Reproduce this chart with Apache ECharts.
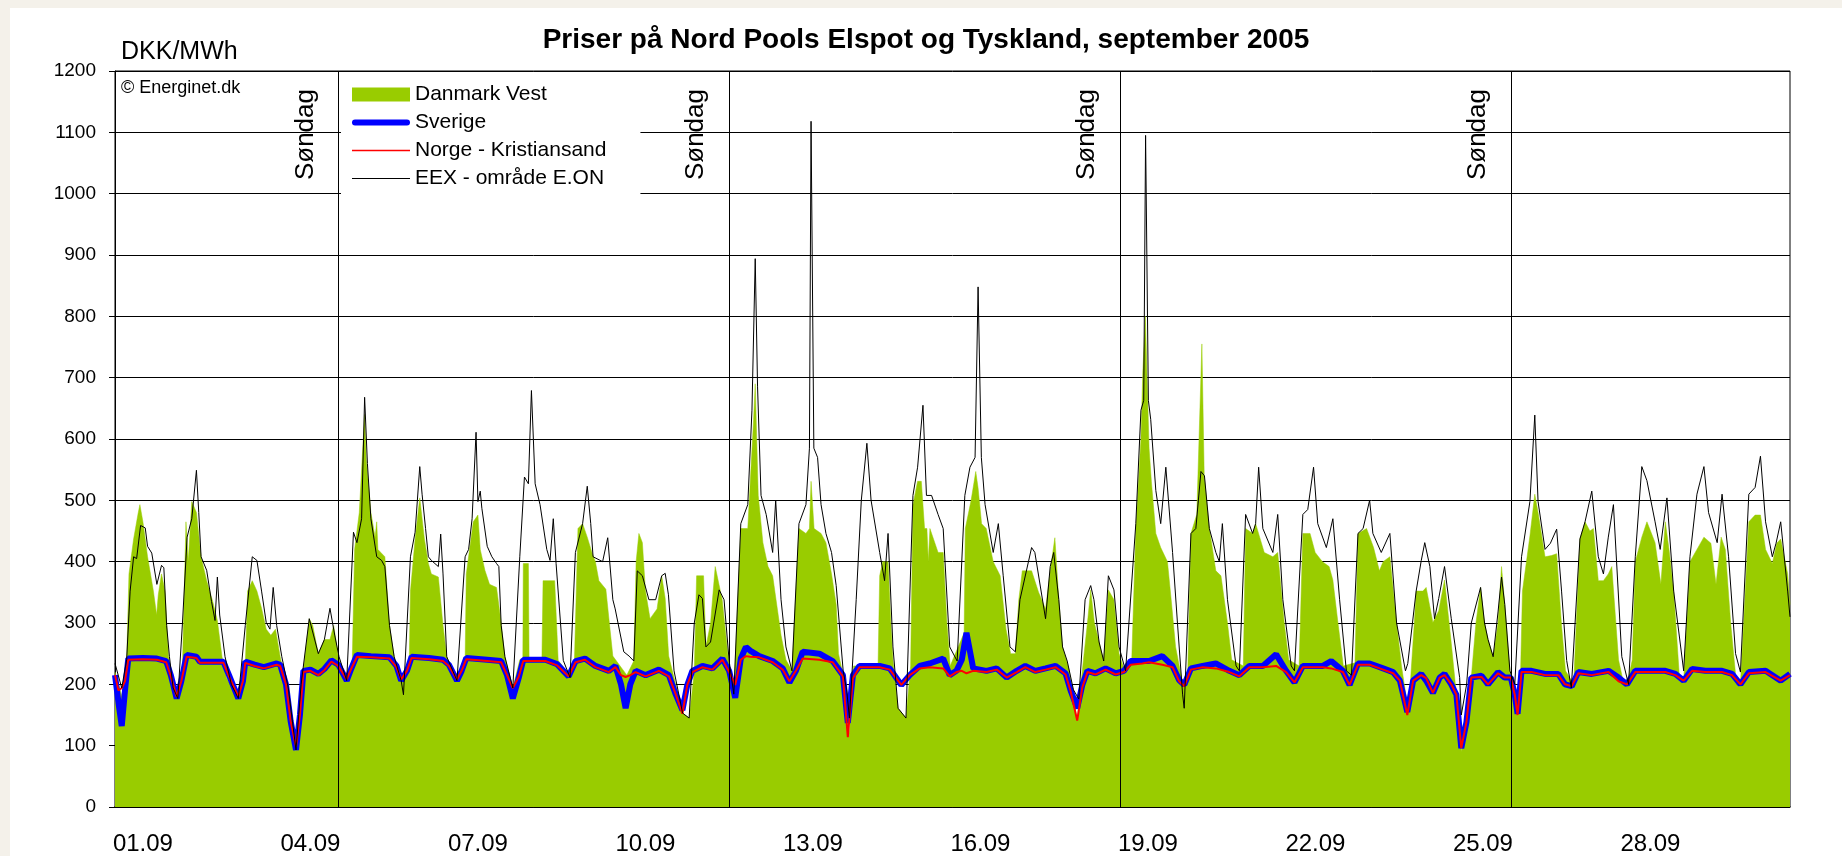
<!DOCTYPE html>
<html>
<head>
<meta charset="utf-8">
<script src="https://cdn.jsdelivr.net/npm/echarts/dist/echarts.min.js"></script>
<style>
  html, body { margin: 0; padding: 0; background: #f4f1ea; }
  #chart { position: absolute; left: 10px; top: 8px; width: 1832px; height: 848px; background: #fff; }
</style>
</head>
<body>
<div id="chart"></div>
<script>
// dagene i september, label hver 3. dag
const days = ['01.09','02.09','03.09','04.09','05.09','06.09','07.09','08.09','09.09','10.09',
  '11.09','12.09','13.09','14.09','15.09','16.09','17.09','18.09','19.09','20.09',
  '21.09','22.09','23.09','24.09','25.09','26.09','27.09','28.09','29.09','30.09'];

// mandag kl. 00 (slut på søndag), timer fra 1/9 kl. 00
const sundayEnds = [96, 264, 432, 600];

// [time, DKK/MWh]
const dkVest = [
  [0,220],[3,180],[5,235],[6,380],[8,437],[10,480],[10.7,493],[12,465],[14,408],[16.5,352],[17.9,313],[18.6,346],[20,380],[21.5,352],[23,245],
  [25,200],[27,177],[29,230],[30.5,465],[31.5,400],[33,498],[35,480],[37,408],[39.4,369],[42,335],[44,304],[46,245],[48,210],
  [53,177],[56,230],[57,352],[59,369],[61,352],[63,324],[65,290],[67,280],[69,290],[71,245],[74,194],[77.8,90],
  [80,190],[83.5,307],[85,296],[87.4,250],[90,273],[92.4,273],[94,296],[96,245],[99.6,206],
  [102,240],[103,420],[105,480],[107.3,640],[108,566],[110,480],[111.8,440],[112.5,465],[113,420],[116,408],[118,296],[120,245],[123,206],
  [126.5,240],[127,352],[129,437],[131,504],[133,437],[134.7,397],[136,380],[139,375],[141,296],[142.6,245],[147,206],
  [150.5,240],[151,380],[154,465],[156,476],[157,420],[159,386],[161,363],[164,358],[166,300],[167.6,245],[171,194],
  [174,240],[175.3,240],[175.5,397],[177.7,397],[178,240],[183.5,240],[184,369],[189,369],[190.5,239],[192,232],
  [195,215],[197.5,240],[199,454],[201,462],[203,440],[205,415],[206.5,400],[208,369],[211,355],[212.5,300],[214,246],
  [220,215],[223,238],[224,400],[225.2,446],[226.7,431],[228,353],[230,307],[233,323],[235,377],[236.5,340],[238,246],
  [241,200],[244,153],[246.8,145],[249,220],[250,377],[253,377],[254,261],[256,300],[258,392],[261,338],[263.5,246],
  [266,184],[269,454],[272,454],[274.5,632],[275.2,690],[276.5,508],[278.5,431],[280.7,392],[282.7,377],[286.3,280],[288.4,240],
  [291,222],[294,454],[297,446],[298.5,454],[299.2,531],[300.5,454],[303.5,446],[305.6,431],[308,380],[310,330],[311,250],
  [313,215],[315.7,120],[317.5,230],[328,230],[328.7,377],[330,400],[332.3,400],[333.5,300],[334.4,240],[336.6,161],[340,145],
  [342,230],[343,493],[345,531],[346.6,531],[348,454],[349,454],[349.6,400],[350.3,454],[353.8,415],[356,415],[357.6,300],[359,230],
  [365,284],[365.5,454],[368,500],[370,547],[371,520],[372.5,462],[374.5,454],[377.5,400],[380.5,377],[383,290],[385,250],
  [387,250],[388.5,338],[390,385],[394,385],[397,350],[400,323],[402,385],[404,439],[405.7,338],[407.3,261],[410,226],
  [413.6,141],[416,230],[418,300],[419.4,354],[421,300],[423,269],[425,238],[427,354],[429.4,338],[431.6,250],[434,222],
  [437,234],[438.8,454],[441,601],[441.8,709],[442.9,800],[444.5,585],[445.5,530],[447.4,446],[449.5,423],[452.4,400],[454,338],[455.9,261],[459,200],
  [461,200],[462.5,446],[465,477],[467.2,755],[468.2,540],[470.4,454],[473.2,385],[475.4,377],[478.2,300],[480,240],
  [485,230],[486,454],[489,446],[490.3,462],[494,415],[497.7,408],[499.8,415],[502.6,300],[504.5,240],
  [509,230],[510.6,446],[513.7,446],[515.9,415],[519,400],[521.9,392],[523.5,370],[525.7,300],[528,230],
  [533,235],[534.3,446],[538,454],[541,423],[543.5,385],[545.1,400],[548,408],[550.9,300],[553,230],
  [556,155],[558.5,300],[559.3,352],[562.2,352],[563.6,358],[566.5,301],[569,320],[571.5,370],[574.4,267],[576.6,183],
  [578.7,90],[581,150],[583,211],[585,300],[587,358],[588.7,300],[590.2,273],[592.4,245],[594.5,301],[596,392],[597.4,330],[599.6,222],
  [602.4,152],[604.2,222],[605,352],[608.2,442],[610.3,510],[611.7,480],[614.7,408],[617.5,410],[619.7,413],[621.8,296],[623.5,222],
  [627,200],[629.7,437],[631.9,465],[634,450],[635.5,454],[637.6,369],[639.8,369],[641.9,380],[643.4,392],[646.3,240],[648,210],
  [650,200],[652.2,240],[653.5,400],[656.3,440],[658.5,465],[662,431],[664.5,363],[666.4,465],[668,420],[670,352],[672.5,210],
  [674.3,206],[677,400],[680,420],[683,440],[686,430],[688.2,363],[690.4,440],[692.2,420],[694.5,300],[697,200],
  [698.7,200],[702.3,465],[705,476],[707.3,476],[709.5,420],[712.4,397],[714.3,430],[716,437],[719,380],[720,330]
];

const sverige = [
  [0,215],[1.5,170],[2.9,132],[4.3,190],[5.7,242],[12,243],[18,242],[22,238],[24,215],[26.5,177],[28.5,205],[30.8,248],[35,245],[36.5,237],[46.6,237],
  [49,215],[53,177],[55,205],[56,237],[60,232],[64,228],[69.5,234],[71,232],[73.5,200],[75.5,140],[77.8,93],[79.5,150],[81,222],[84,224],[87.4,217],
  [90,225],[93,239],[96,232],[99.6,206],[101.5,225],[104,248],[110,246],[118,244],[121,230],[123,206],[125.5,222],[127.5,245],[135,243],[141,240],
  [143.5,232],[147,206],[149,222],[151,243],[160,240],[166,238],[168.5,215],[171,177],[173.5,210],[175.5,240],[185,240],[190,233],[195,213],[198,238],
  [202,242],[206.5,230],[212.3,222],[215.1,230],[217.5,200],[219.5,161],[221.5,200],[223.8,222],[228.1,215],[233.8,224],[238.1,215],[241,184],
  [243.9,158],[246,199],[248.2,222],[252.5,230],[256.8,226],[261.1,242],[264,222],[266.6,178],[269,242],[271.2,261],[273,255],[276.9,246],
  [282.7,238],[287,226],[289.9,203],[292.7,222],[295.6,253],[302.8,250],[308.5,238],[312.9,215],[315,137],[317.2,215],[320,230],[328.7,230],
  [333,226],[338,199],[341.6,215],[345.9,230],[350.2,234],[356,242],[358.8,215],[361.7,222],[364,240],[366,284],[368.9,226],[374.6,222],
  [379,226],[383.3,211],[387.6,222],[391.3,230],[395.6,222],[400,226],[404.3,230],[408.6,218],[410.7,191],[413.6,161],[415.8,199],[418,222],
  [421.5,218],[425.8,226],[430.1,218],[433.7,222],[436.6,238],[441.6,238],[444.5,238],[450.2,246],[454.6,230],[457.4,207],[459.6,199],[462.5,226],
  [467.5,230],[473.2,234],[479,222],[483.3,215],[487.6,230],[493.4,230],[499.1,249],[503.4,222],[507,203],[510.6,230],[519.2,230],[522.8,238],
  [527.8,222],[530.7,199],[534.3,234],[539.3,234],[545.1,226],[549.4,220],[552.3,206],[555.5,155],[558,206],[561.5,217],[563.6,206],[566.5,186],
  [569.4,211],[571.5,217],[574.4,200],[576.6,183],[578.7,96],[580.9,138],[583,211],[587.4,214],[590.2,200],[594.5,220],[597.4,211],[600,211],
  [601.7,183],[602.9,152],[604.6,222],[608.9,222],[614.7,217],[620.4,217],[623.3,200],[626.2,197],[629,220],[634.8,217],[642,222],[646.3,211],
  [649.9,200],[653.5,222],[660.6,222],[666.4,222],[670.7,217],[674.3,206],[677.9,225],[683.6,222],[690.8,222],[695.1,217],[698.7,200],[702.3,220],
  [709.5,222],[716,206],[720,217]
];

const norge = [
  [0,215],[1.5,190],[2.9,194],[4.3,205],[5.7,240],[12,241],[18,240],[22,236],[24,213],[26.5,180],[28.5,205],[30.8,245],[35,243],[36.5,235],[46.6,235],
  [49,213],[53,180],[55,205],[56,235],[60,230],[64,226],[69.5,232],[71,230],[73.5,200],[75.5,140],[77.8,98],[79.5,150],[81,220],[84,222],[87.4,215],
  [90,223],[93,237],[96,230],[99.6,208],[101.5,225],[104,245],[110,244],[118,242],[121,228],[123,208],[125.5,222],[127.5,243],[135,241],[141,238],
  [143.5,230],[147,208],[149,222],[151,241],[160,238],[166,236],[168.5,215],[171,194],[173.5,212],[175.5,238],[185,238],[190,231],[195,213],[198,236],
  [202,240],[206.5,228],[212.3,220],[215.1,228],[217.5,215],[219.5,212],[221.5,215],[223.8,220],[228.1,213],[233.8,222],[238.1,213],[241,184],
  [243.9,152],[246,199],[248.2,220],[252.5,228],[256.8,224],[261.1,240],[264,220],[266.6,199],[269,240],[271.2,246],[273,245],[276.9,244],
  [282.7,236],[287,224],[289.9,205],[292.7,222],[295.6,242],[302.8,240],[308.5,236],[312.9,213],[315,114],[317.2,210],[320,228],[328.7,228],
  [333,224],[338,199],[341.6,215],[345.9,226],[350.2,228],[356,226],[358.8,213],[361.7,220],[364,222],[366,218],[368.9,222],[374.6,220],
  [379,224],[383.3,211],[387.6,220],[391.3,228],[395.6,220],[400,224],[404.3,228],[408.6,216],[410.7,190],[413.6,141],[415.8,195],[418,220],
  [421.5,216],[425.8,224],[430.1,216],[433.7,220],[436.6,232],[441.6,234],[444.5,236],[450.2,232],[454.6,228],[457.4,205],[459.6,197],[462.5,224],
  [467.5,228],[473.2,226],[479,220],[483.3,213],[487.6,228],[493.4,228],[499.1,230],[503.4,220],[507,203],[510.6,228],[519.2,228],[522.8,226],
  [527.8,220],[530.7,199],[534.3,232],[539.3,232],[545.1,224],[549.4,218],[552.3,206],[555.5,150],[558,206],[561.5,215],[563.6,210],[566.5,186],
  [569.4,211],[571.5,215],[574.4,200],[576.6,183],[578.7,96],[580.9,138],[583,211],[587.4,212],[590.2,200],[594.5,218],[597.4,211],[600,211],
  [601.7,183],[602.9,150],[604.6,220],[608.9,220],[614.7,215],[620.4,215],[623.3,200],[626.2,197],[629,218],[634.8,215],[642,220],[646.3,205],
  [649.9,200],[653.5,220],[660.6,220],[666.4,220],[670.7,215],[674.3,206],[677.9,222],[683.6,220],[690.8,220],[695.1,215],[698.7,200],[702.3,218],
  [709.5,220],[716,206],[720,215]
];

const eex = [
  [0,234],[2.9,194],[5,240],[6.5,352],[8,408],[9.3,405],[11,459],[13,455],[14,425],[15.8,414],[18,363],[20,394],[21,390],[22.2,296],[23.4,245],
  [25,194],[27,177],[29,300],[31,440],[33,470],[35,549],[36,480],[37,408],[39.4,386],[41.5,335],[43,304],[44,375],[45,313],[47.3,245],[50,200],[53,177],
  [56,296],[59,408],[61,402],[63,352],[65,301],[66.6,290],[68,358],[69.5,296],[71.7,245],[74.5,194],[77.8,93],
  [80,200],[83.5,307],[87.4,250],[90,273],[92.4,324],[94.5,279],[96.3,245],[99.6,206],
  [102.5,448],[104,431],[106,470],[107.3,668],[108.5,560],[110,470],[112.5,408],[114.6,402],[116,392],[118,296],[120,245],[123,206],[124,183],
  [127,408],[129,448],[131,555],[132,510],[133.5,454],[134.7,408],[136,402],[139,392],[140,445],[141,380],[142.6,245],[147,206],
  [150.5,408],[152,420],[153.5,470],[155.2,611],[156,498],[157,515],[157.7,487],[160,425],[162,408],[164,397],[165,392],[166,296],[167.6,245],[171,194],
  [174,408],[176,538],[177.7,527],[179,679],[180.6,527],[182.7,493],[185.6,420],[187,402],[188.4,470],[189.6,397],[192.7,239],[195.6,211],
  [197.9,415],[201,462],[203,523],[204.5,462],[205.5,408],[209.6,400],[211.8,439],[214,338],[215,323],[218.7,253],[221,246],
  [223,238],[224.5,385],[226.7,377],[229.5,338],[232.4,338],[235,377],[236.5,381],[237.9,346],[240.3,222],[244,153],[246.8,145],
  [249,300],[251,346],[252.5,340],[254,261],[256,269],[259.7,354],[261.8,338],[264,238],[266,184],
  [269,462],[272,493],[273.8,647],[275.2,894],[276.2,685],[277.7,508],[279.9,477],[282.7,415],[284,500],[286.3,338],[288.4,261],[291,222],
  [294,462],[297,493],[298.5,585],[299.2,1118],[300.4,585],[302,570],[303.5,493],[305.6,446],[308,415],[310,361],[313,222],[314.5,191],
  [315.7,145],[318.6,338],[320.8,500],[323.2,593],[325,500],[328.7,415],[330.8,369],[332.3,446],[334.4,261],[336.6,161],[340,145],
  [343,508],[345,554],[347.3,655],[348.8,508],[351,508],[353.8,477],[356,454],[358.8,261],[362,238],
  [365.3,508],[367.5,554],[369.7,570],[371,848],[372.4,570],[374,493],[377.5,415],[379.7,462],[381.8,377],[384.7,261],
  [387,253],[389,338],[394,423],[395.4,415],[400,307],[402,392],[403.5,415],[405.7,338],[407.3,261],[409.3,238],[412,191],
  [414.3,176],[417,338],[419.4,361],[420.8,338],[423,269],[425,238],[427,377],[429.4,354],[431.6,261],[434.4,222],
  [438.8,462],[441,647],[442.2,663],[443,1095],[444.2,663],[445.2,632],[447.4,516],[449.5,462],[451.7,554],[454.6,415],[456.7,300],[458.9,184],
  [459.6,161],[462.5,446],[464.6,454],[466.8,547],[468.3,540],[470.4,454],[473.2,415],[474.7,400],[476,462],[478.2,338],[481.9,230],
  [483.3,222],[486,477],[489,446],[490.3,462],[491.6,554],[493.4,454],[497.7,415],[499.8,477],[502,338],[505.6,230],
  [507,222],[510.6,477],[512.7,485],[515.2,554],[517,462],[520.7,423],[523.5,470],[526.4,338],[529.3,222],[531.5,215],
  [534.3,446],[536.5,454],[539.3,500],[540.7,446],[544.3,415],[548,446],[550.9,300],[554.7,222],
  [555.7,234],[559.3,352],[561.5,402],[563,431],[565.2,392],[567.2,307],[569,340],[571.5,392],[574.4,307],[578,211],
  [578.7,150],[581,200],[583,300],[587,358],[588.7,300],[590.2,273],[592.4,245],[594.5,318],[596,375],[597.4,330],[599.6,222],[601.7,200],
  [604.6,408],[608.2,498],[610.3,639],[611.7,498],[614.7,420],[617,430],[619.7,453],[621.8,352],[624,239],[626,194],
  [629.7,437],[631.9,465],[634.8,515],[637.6,408],[639.8,380],[641.9,440],[644.1,493],[647.7,245],[650.6,200],
  [653.5,408],[656.3,555],[658.5,532],[662,465],[664.2,420],[667.1,504],[670,352],[674.3,222],
  [677,408],[680,510],[683,555],[685,480],[688.7,431],[690.8,510],[693.6,408],[696.6,250],[698.7,220],
  [702.3,510],[705,521],[707.3,572],[709.5,465],[712.4,408],[714,430],[716,465],[719,352],[720,310]
];

const font = 'Liberation Sans, Arial, sans-serif';
const chart = echarts.init(document.getElementById('chart'));

const option = {
  animation: false,
  backgroundColor: '#fff',
  title: {
    text: 'Priser på Nord Pools Elspot og Tyskland, september 2005',
    left: 'center',
    top: 13,
    textStyle: { fontFamily: font, fontSize: 28, fontWeight: 'bold', color: '#000' }
  },
  graphic: [
    { type: 'text', left: 111, top: 32, style: { text: 'DKK/MWh', font: '25px ' + font, fill: '#000' } },
    { type: 'text', left: 111, top: 71, z: 10, style: { text: '© Energinet.dk', font: '18px ' + font, fill: '#000' } }
  ],
  legend: {
    orient: 'vertical',
    left: 331,
    top: 65,
    backgroundColor: '#fff',
    padding: [11, 34, 13, 11],
    itemGap: 7,
    itemWidth: 58,
    itemHeight: 14,
    textStyle: { fontFamily: font, fontSize: 21, color: '#000' },
    data: [
      { name: 'Danmark Vest', icon: 'rect' },
      { name: 'Sverige', icon: 'path://M3,0 L55,0 A3,3 0 0 1 55,6 L3,6 A3,3 0 0 1 3,0 Z' },
      { name: 'Norge - Kristiansand', icon: 'path://M0,0 L58,0 L58,1.4 L0,1.4 Z' },
      { name: 'EEX - område E.ON', icon: 'path://M0,0 L58,0 L58,1.2 L0,1.2 Z' }
    ]
  },
  grid: {
    left: 105, right: 52, top: 63, bottom: 48,
    show: true, borderColor: '#000', borderWidth: 1, backgroundColor: 'transparent'
  },
  xAxis: [
    {
      type: 'category',
      data: days,
      boundaryGap: true,
      axisLine: { lineStyle: { color: '#000', width: 1.5 } },
      axisTick: { interval: 0, length: 8, lineStyle: { color: '#000' } },
      axisLabel: { interval: 2, margin: 25, fontFamily: font, fontSize: 24, color: '#000' },
      splitLine: { show: false }
    },
    { type: 'value', min: 0, max: 720, show: false }
  ],
  yAxis: {
    type: 'value',
    min: 0, max: 1200, interval: 100,
    axisLine: { show: true, lineStyle: { color: '#000' } },
    axisTick: { show: true, length: 6, lineStyle: { color: '#000' } },
    axisLabel: { margin: 19, fontFamily: font, fontSize: 19, color: '#000', formatter: v => String(v) },
    splitLine: { lineStyle: { color: '#000', width: 1 } }
  },
  series: [
    {
      name: 'Danmark Vest', type: 'line', xAxisIndex: 1, data: dkVest,
      symbol: 'none', z: 1,
      itemStyle: { color: '#99cc00' },
      lineStyle: { width: 0.5, color: '#99cc00' },
      areaStyle: { color: '#99cc00', opacity: 1 }
    },
    {
      name: 'Sverige', type: 'line', xAxisIndex: 1, data: sverige,
      symbol: 'none', z: 2,
      itemStyle: { color: '#0000ff' },
      lineStyle: { width: 6, color: '#0000ff' }
    },
    {
      name: 'Norge - Kristiansand', type: 'line', xAxisIndex: 1, data: norge,
      symbol: 'none', z: 3,
      itemStyle: { color: '#ff0000' },
      lineStyle: { width: 2, color: '#ff0000' }
    },
    {
      name: 'EEX - område E.ON', type: 'line', xAxisIndex: 1, data: eex,
      symbol: 'none', z: 4,
      itemStyle: { color: '#000' },
      lineStyle: { width: 1, color: '#000' },
      markLine: {
        silent: true,
        symbol: ['none', 'none'],
        lineStyle: { color: '#000', width: 1, type: 'solid' },
        label: {
          show: true,
          formatter: 'Søndag',
          position: 'insideEndTop',
          distance: [18, 20],
          fontFamily: font,
          fontSize: 26,
          color: '#000'
        },
        data: sundayEnds.map(h => ({ xAxis: h }))
      }
    }
  ]
};

chart.setOption(option);
</script>
</body>
</html>
